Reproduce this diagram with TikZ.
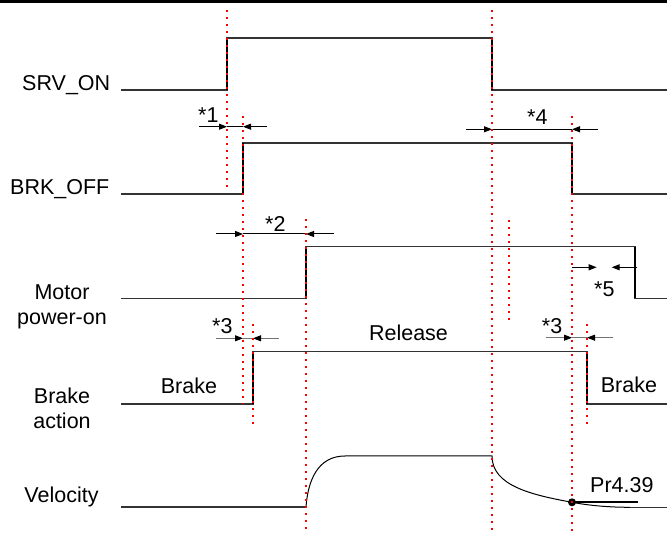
\documentclass[tikz,border=0pt]{standalone}
\usepackage{fontspec}
\setmainfont{Liberation Sans}
\usetikzlibrary{arrows.meta}
\begin{document}
\begin{tikzpicture}[x=1pt,y=-1pt,
  sig/.style={line width=1.2pt, black!80, line join=miter},
  edgeline/.style={line width=2pt, black},
  guide/.style={red, line width=2pt, dash pattern=on 2pt off 5pt},
  dim/.style={line width=1pt, -{Triangle[length=8pt,width=6pt]}},
  dimg/.style={line width=1pt, black!55, -{Triangle[length=8pt,width=6pt,black]}},
  lbl/.style={inner sep=0pt, font=\fontsize{21.5}{25}\selectfont},
]
\useasboundingbox (0,0) rectangle (667,534);
% top rule
\draw[line width=3pt] (0,1.5) -- (667,1.5);

% signal traces
\draw[sig] (121,90) -- (227,90) -- (227,38) -- (492,38) -- (492,90) -- (667,90);
\draw[edgeline] (227,90) -- (227,38) (492,38) -- (492,90);

\draw[sig] (121,194) -- (243,194) -- (243,143) -- (572,143) -- (572,194) -- (667,194);
\draw[edgeline] (243,194) -- (243,143) (572,143) -- (572,194);

\draw[sig] (121,298.5) -- (306,298.5) -- (306,246.7) -- (635,246.7) -- (635,298.5) -- (667,298.5);
\draw[edgeline] (306,298.5) -- (306,246.7) (635,246.7) -- (635,298.5);

\draw[sig] (121,404) -- (253,404) -- (253,351.7) -- (587,351.7) -- (587,404) -- (667,404);
\draw[edgeline] (253,404) -- (253,351.7) (587,351.7) -- (587,404);

% velocity
\draw[sig] (121,507) -- (306,507);
\draw[line width=1pt, black] (306,507) .. controls (308,480) and (318,456) .. (345,456)
  -- (492,456) .. controls (492,486) and (532,494.9) .. (572,502.3)
  .. controls (590,505.7) and (610,507.3) .. (630,507.3);
\draw[sig] (630,507.3) -- (667,507.3);
\coordinate (pr) at (572,502.3);
\coordinate (prend) at (638,502.3);
\draw[line width=2.2pt] (pr) -- (prend);
\fill (pr) circle (4pt);

% dimension arrows
\draw[line width=1pt] (227,126.7) -- (243,126.7);
\draw[dim] (199,126.7) -- (227,126.7);
\draw[dim] (267,126.7) -- (243,126.7);
\draw[line width=1pt] (492,129.3) -- (572,129.3);
\draw[dim] (466,129.3) -- (492,129.3);
\draw[dim] (598,129.3) -- (572,129.3);
\draw[line width=1pt] (243,234) -- (306,234);
\draw[dim] (216,234) -- (243,234);
\draw[dim] (334,234) -- (306,234);
\draw[dim] (572,267.3) -- (596.7,267.3);
\draw[dim] (636.7,267.3) -- (611.7,267.3);
\draw[line width=1pt, black!55] (243,338.3) -- (253,338.3);
\draw[dimg] (216,338.3) -- (243,338.3);
\draw[dimg] (279,338.3) -- (253,338.3);
\draw[line width=1pt, black!55] (572,337.7) -- (587,337.7);
\draw[dimg] (546,337.7) -- (572,337.7);
\draw[dimg] (612.7,337.7) -- (587,337.7);

% guides
\draw[guide] (227,10) -- (227,190);
\draw[guide] (243,116) -- (243,404);
\draw[guide] (253,324) -- (253,428);
\draw[guide] (306,219) -- (306,534);
\draw[guide] (492,10) -- (492,534);
\draw[guide] (509,220) -- (509,323);
\draw[guide] (572,116) -- (572,534);
\draw[guide] (587,324) -- (587,428);

% labels
\node[lbl, anchor=base west] (srv) at (22,90.7) {SRV\_ON};
\node[lbl, anchor=base west] (brk) at (10,195) {BRK\_OFF};
\node[lbl, anchor=base] (mot1) at (62,300) {Motor};
\node[lbl, anchor=base] (mot2) at (62,325) {power-on};
\node[lbl, anchor=base] (ba1) at (62,404) {Brake};
\node[lbl, anchor=base] (ba2) at (62,428.3) {action};
\node[lbl, anchor=base] (vel) at (61.5,503) {Velocity};

\node[lbl, anchor=base west] (n1) at (198,123) {*1};
\node[lbl, anchor=base west] (n4) at (527,125) {*4};
\node[lbl, anchor=base west] (n2) at (265,232) {*2};
\node[lbl, anchor=base west] (n5) at (594,297) {*5};
\node[lbl, anchor=base west] (n3a) at (212,334) {*3};
\node[lbl, anchor=base west] (n3b) at (541.7,334) {*3};
\node[lbl, anchor=base] (rel) at (408.5,340.7) {Release};
\node[lbl, anchor=base west] (brl) at (160.7,394) {Brake};
\node[lbl, anchor=base west] (brr) at (600.7,393) {Brake};
\node[lbl, anchor=base west] (prl) at (590,492.7) {Pr4.39};
\end{tikzpicture}
\end{document}
